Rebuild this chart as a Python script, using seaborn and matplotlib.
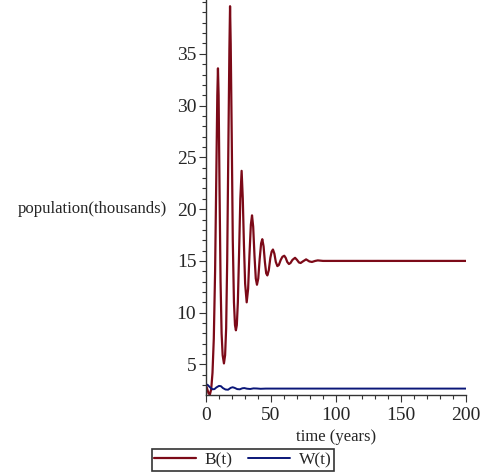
import matplotlib
matplotlib.use("Agg")
import matplotlib.pyplot as plt
import seaborn as sns
import pandas as pd
from matplotlib.ticker import MultipleLocator

# Population of B (thousands) over time (years)
b_time = [0, 1, 2, 3, 4, 5, 6, 7, 8, 8.7, 9.2, 9.7, 10.4, 11.2, 12, 12.8, 13.8,
          14.7, 15.5, 16.3, 17.2, 18, 18.5, 19, 19.8, 20.6, 21.5, 22.3, 23,
          23.7, 24.5, 25.4, 26.4, 27.4, 28.3, 29.2, 30.1, 31.3, 32.4, 33.4,
          34.5, 35.4, 36.3, 37.3, 38.3, 39.2, 40.2, 41.3, 42.4, 43.3, 44.3,
          45.3, 46.3, 47.2, 48.3, 49.5, 50.5, 51.5, 52.6, 53.7, 54.9, 56, 57.5,
          58.8, 60.2, 61.3, 62.5, 63.8, 65, 66.5, 68.5, 70, 71.5, 72.8, 74.5,
          77, 79.5, 81.5, 84, 86, 90, 200]
b_pop = [3.0, 2.6, 2.2, 2.1, 2.6, 4.2, 7.5, 14, 24, 31, 33.6, 31, 22, 13, 8,
         5.9, 5.1, 5.9, 8.5, 15, 26, 35.5, 39.6, 36, 27, 17, 11, 8.8, 8.3,
         8.8, 11, 15.5, 21, 23.7, 21, 16.5, 12.8, 11.0, 12.3, 15.5,
         18.5, 19.4, 18.3, 15.5, 13.3, 12.7, 13.3, 15.2, 16.7, 17.1, 16.4,
         14.9, 13.8, 13.6, 14.1, 15.3, 15.9, 16.1, 15.7, 14.9, 14.5, 14.6, 15.1,
         15.4, 15.5, 15.3, 14.9, 14.7, 14.8, 15.1, 15.3, 15.1, 14.85, 14.8,
         14.95, 15.15, 14.95, 14.9, 15.0, 15.05, 15, 15]

# Population of W (thousands) over time (years)
w_time = [0, 1.5, 3, 5, 6.5, 8, 10, 11.5, 13, 15, 17, 19, 20.5, 22, 24, 26,
          28, 29.5, 31.5, 34, 36.5, 39, 42, 46, 200]
w_pop = [3.1, 3.0, 2.8, 2.6, 2.62, 2.78, 2.93, 2.9, 2.72, 2.58, 2.56, 2.74,
         2.8, 2.74, 2.62, 2.6, 2.7, 2.72, 2.66, 2.63, 2.69, 2.68, 2.65, 2.67,
         2.67]

x_ticks = [0, 50, 100, 150, 200]
y_ticks = [5, 10, 15, 20, 25, 30, 35]

b_df = pd.DataFrame({"t": b_time, "pop": b_pop})
w_df = pd.DataFrame({"t": w_time, "pop": w_pop})

sns.set_style("ticks")
plt.rcParams["font.family"] = ["Liberation Serif", "DejaVu Serif"]

fig = plt.figure(figsize=(4.84, 4.76), dpi=100)
ax = fig.add_axes([206 / 484, 1 - 395 / 476, 260 / 484, 395 / 476])

sns.lineplot(data=b_df, x="t", y="pop", ax=ax, color="#7C0A18", lw=1.6,
             label="B(t)", sort=False)
sns.lineplot(data=w_df, x="t", y="pop", ax=ax, color="#0A1678", lw=1.4,
             label="W(t)", sort=False)

ax.set_xlim(0, 200)
ax.set_ylim(2.05, 40.2)
ax.set_xticks(x_ticks)
ax.set_yticks(y_ticks)
ax.xaxis.set_minor_locator(MultipleLocator(10))
ax.yaxis.set_minor_locator(MultipleLocator(1))
ax.tick_params(axis="both", which="major", labelsize=14, length=5,
               width=0.8, direction="out", color="#333333", pad=2)
ax.tick_params(axis="x", which="major", pad=4)
ax.tick_params(axis="both", which="minor", length=3, width=0.8,
               direction="out", color="#333333")
for side in ["top", "right"]:
    ax.spines[side].set_visible(False)
for side in ["left", "bottom"]:
    ax.spines[side].set_color("#333333")
    ax.spines[side].set_linewidth(1.0)

ax.set_xlabel("time (years)", fontsize=12, labelpad=3)
ax.set_ylabel("")
fig.text(18 / 484, 1 - 209 / 476, "population(thousands)", fontsize=12,
         ha="left", va="center")

ax.get_legend().remove()
handles, labels = ax.get_legend_handles_labels()
leg = fig.legend(handles, labels, loc="center", ncol=2,
                 bbox_to_anchor=(243 / 484, 1 - 460 / 476), fontsize=12.5,
                 frameon=True, fancybox=False, handlelength=2.4,
                 handletextpad=0.5, columnspacing=0.9, borderpad=0.15,
                 borderaxespad=0)
leg.get_frame().set_edgecolor("black")
leg.get_frame().set_linewidth(1.2)

fig.savefig("out.png", dpi=100)
